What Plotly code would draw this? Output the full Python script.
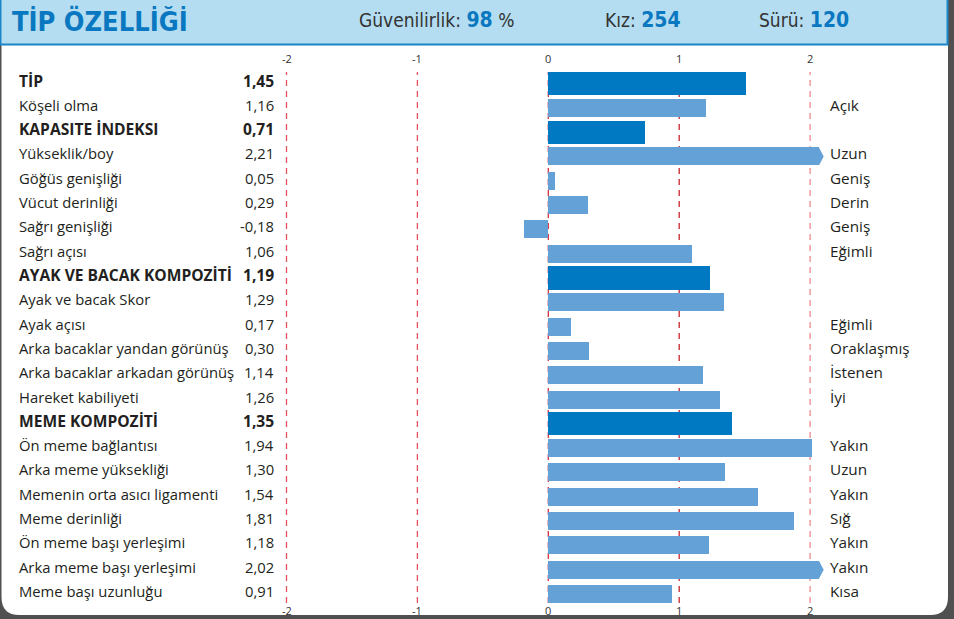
import plotly.graph_objects as go

# ---------------- data ----------------
labels = ["TİP", "Köşeli olma", "KAPASITE İNDEKSI", "Yükseklik/boy", "Göğüs genişliği",
          "Vücut derinliği", "Sağrı genişliği", "Sağrı açısı", "AYAK VE BACAK KOMPOZİTİ",
          "Ayak ve bacak Skor", "Ayak açısı", "Arka bacaklar yandan görünüş",
          "Arka bacaklar arkadan görünüş", "Hareket kabiliyeti", "MEME KOMPOZİTİ",
          "Ön meme bağlantısı", "Arka meme yüksekliği", "Memenin orta asıcı ligamenti",
          "Meme derinliği", "Ön meme başı yerleşimi", "Arka meme başı yerleşimi",
          "Meme başı uzunluğu"]
values = [1.45, 1.16, 0.71, 2.21, 0.05, 0.29, -0.18, 1.06, 1.19, 1.29, 0.17, 0.30,
          1.14, 1.26, 1.35, 1.94, 1.30, 1.54, 1.81, 1.18, 2.02, 0.91]
composite = [True, False, True, False, False, False, False, False, True, False, False,
             False, False, False, True, False, False, False, False, False, False, False]
right_labels = ["", "Açık", "", "Uzun", "Geniş", "Derin", "Geniş", "Eğimli", "", "",
                "Eğimli", "Oraklaşmış", "İstenen", "İyi", "", "Yakın", "Uzun", "Yakın",
                "Sığ", "Yakın", "Yakın", "Kısa"]
tick_values = [-2, -1, 0, 1, 2]
tick_colors = ["#e4515c", "#e4515c", "#d8323d", "#c8242e", "#f08a92"]
reliability = 98
cows = 254
herd = 120

# ---------------- style ----------------
W, H = 954, 619
DARK = "#0079c2"
LIGHT = "#64a1d6"
TXT = "#231f20"
FONT = "Open Sans, Noto Sans, sans-serif"
NARROW = "Liberation Sans Narrow, DejaVu Sans Condensed, Roboto, sans-serif"
CAP, TIP = 1.99, 2.025

def px(x):
    return x / W

def py(y):
    return 1 - y / H

rows = list(range(len(labels)))
bar_x = [min(v, CAP) if v > 2 else v for v in values]
colors = [DARK if c else LIGHT for c in composite]
widths = [0.95 if c else 0.74 for c in composite]

fig = go.Figure()
fig.add_trace(go.Bar(x=bar_x, y=rows, orientation="h", marker=dict(color=colors, line=dict(width=0)),
                     width=widths, hoverinfo="skip"))

# arrow tips for values beyond the scale
for i, v in enumerate(values):
    if v > 2:
        hw = widths[i] / 2
        fig.add_trace(go.Scatter(x=[CAP, TIP, CAP, CAP], y=[i - hw, i, i + hw, i - hw],
                                 mode="lines", fill="toself", fillcolor=LIGHT,
                                 line=dict(width=0, color=LIGHT), hoverinfo="skip"))

shapes = []
# dark surround + white panel with rounded bottom corners
r = 18
x0, x1, y1 = 1.5, 948, 615
path = (f"M {px(x0)} {py(0)} L {px(x1)} {py(0)} L {px(x1)} {py(y1 - r)} "
        f"Q {px(x1)} {py(y1)} {px(x1 - r)} {py(y1)} L {px(x0 + r)} {py(y1)} "
        f"Q {px(x0)} {py(y1)} {px(x0)} {py(y1 - r)} Z")
shapes.append(dict(type="path", xref="paper", yref="paper", path=path,
                   fillcolor="white", line=dict(width=0), layer="below"))
# header band
shapes.append(dict(type="rect", xref="paper", yref="paper", x0=px(0.5), x1=px(947.5),
                   y0=py(44.5), y1=py(-2), fillcolor="#b4ddf1",
                   line=dict(color="#1a86c8", width=2), layer="below"))
# dashed gridlines (on the printed scale axis x2)
for t, c in zip(tick_values, tick_colors):
    shapes.append(dict(type="line", xref="x2", yref="paper", x0=t, x1=t,
                       y0=py(603), y1=py(72), line=dict(color=c, width=1.3, dash="6px,5px"),
                       layer="below"))

ann = []
# title & header
ann.append(dict(text="<b>TİP ÖZELLİĞİ</b>", x=px(10), y=py(21), xref="paper", yref="paper",
                xanchor="left", yanchor="middle", showarrow=False,
                font=dict(family=NARROW, size=27, color="#0a78c0")))
hdr = [(357, f"Güvenilirlik: <b><span style='color:#0a78c0;font-size:21px'>{reliability}</span></b> %"),
       (603, f"Kız: <b><span style='color:#0a78c0;font-size:21px'>{cows}</span></b>"),
       (757, f"Sürü: <b><span style='color:#0a78c0;font-size:21px'>{herd}</span></b>")]
for x, t in hdr:
    ann.append(dict(text=t, x=px(x), y=py(20), xref="paper", yref="paper",
                    xanchor="left", yanchor="middle", showarrow=False,
                    font=dict(family=NARROW, size=19, color="#333333")))
# tick labels top & bottom
for t in tick_values:
    for yy in (58, 610):
        ann.append(dict(text=str(t), x=t, y=py(yy), xref="x2", yref="paper",
                        xanchor="center", yanchor="middle", showarrow=False,
                        font=dict(family=FONT, size=11, color="#333333")))
# row labels
for i, (lab, v, rl, c) in enumerate(zip(labels, values, right_labels, composite)):
    vs = f"{v:.2f}".replace(".", ",")
    fs = 15.6 if c else 14.8
    if c:
        lab_t, vs = f"<b>{lab}</b>", f"<b>{vs}</b>"
    else:
        lab_t = lab
    ann.append(dict(text=lab_t, x=px(17), y=i, xref="paper", yref="y", xanchor="left",
                    yanchor="middle", yshift=3, showarrow=False,
                    font=dict(family=FONT, size=fs, color=TXT)))
    ann.append(dict(text=vs, x=px(276), y=i, xref="paper", yref="y", xanchor="right",
                    yanchor="middle", yshift=3, showarrow=False,
                    font=dict(family=FONT, size=fs, color=TXT)))
    if rl:
        ann.append(dict(text=rl, x=px(828), y=i, xref="paper", yref="y", xanchor="left",
                        yanchor="middle", yshift=3, showarrow=False,
                        font=dict(family=FONT, size=15.3, color=TXT)))

pitch = 24.31
row0 = 83.5
zero_px = 548.3
bar_unit_px = 136.0    # bar length scale
grid_unit_px = 130.9   # printed scale (ticks/gridlines)
fig.update_layout(
    width=W, height=H, margin=dict(l=0, r=0, t=0, b=0),
    paper_bgcolor="#505050", plot_bgcolor="rgba(0,0,0,0)",
    showlegend=False, bargap=0,
    xaxis=dict(range=[-zero_px / bar_unit_px, (W - zero_px) / bar_unit_px], visible=False, fixedrange=True),
    xaxis2=dict(range=[-zero_px / grid_unit_px, (W - zero_px) / grid_unit_px], visible=False,
                fixedrange=True, overlaying="x", anchor="y"),
    yaxis=dict(range=[(H - row0) / pitch, -row0 / pitch], visible=False, fixedrange=True),
    shapes=shapes, annotations=ann,
)
fig.write_html("out.html", config={"displayModeBar": False},
               post_script="document.body.style.margin='0';document.body.style.overflow='hidden';")
